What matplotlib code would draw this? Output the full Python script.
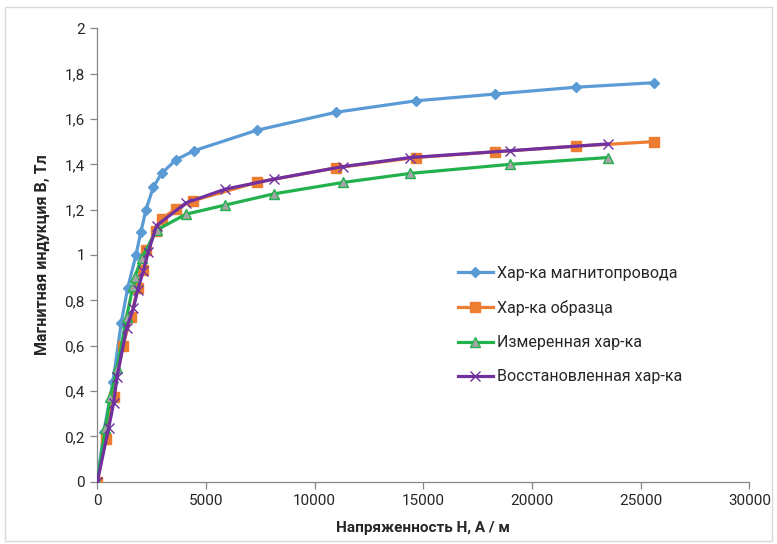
import matplotlib
matplotlib.use('Agg')
import matplotlib.pyplot as plt
import matplotlib as mpl
from matplotlib.ticker import FuncFormatter

mpl.rcParams['font.family'] = ['Roboto', 'DejaVu Sans']

# data
h_core = [0, 300, 720, 1100, 1400, 1780, 2000, 2240, 2580, 2960, 3620, 4450,
          7330, 11000, 14650, 18300, 22000, 25600]
b_core = [0, 0.22, 0.44, 0.70, 0.855, 1.00, 1.10, 1.20, 1.30, 1.36, 1.42, 1.46,
          1.55, 1.63, 1.68, 1.71, 1.74, 1.76]

h_sample = [0, 380, 750, 1170, 1550, 1860, 2100, 2250, 2680, 2960, 3640, 4420,
            7330, 11000, 14650, 18300, 22000, 25600]
b_sample = [0, 0.19, 0.375, 0.60, 0.725, 0.855, 0.935, 1.02, 1.105, 1.16, 1.205, 1.24,
            1.32, 1.385, 1.43, 1.455, 1.48, 1.50]

h_meas = [0, 370, 600, 910, 1350, 1650, 1730, 2040, 2730, 4080,
          5870, 8140, 11300, 14400, 19000, 23500]
b_meas = [0, 0.235, 0.375, 0.50, 0.728, 0.865, 0.905, 0.985, 1.11, 1.18,
          1.22, 1.27, 1.32, 1.36, 1.40, 1.43]

h_rest = [0, 520, 750, 910, 1350, 1660, 1860, 2120, 2350, 2730, 4080,
          5870, 8140, 11300, 14400, 19000, 23500]
b_rest = [0, 0.235, 0.346, 0.463, 0.677, 0.765, 0.846, 0.93, 1.015, 1.13, 1.23,
          1.29, 1.335, 1.39, 1.43, 1.46, 1.49]

labels = ['Хар-ка магнитопровода', 'Хар-ка образца',
          'Измеренная хар-ка', 'Восстановленная хар-ка']

fig = plt.figure(figsize=(7.77, 5.44), dpi=100)
ax = fig.add_axes([0.1252, 0.1145, 0.8394, 0.8335])

# chart area border
fig.patches.append(plt.Rectangle((0.006, 0.006), 0.988, 0.982, transform=fig.transFigure,
                                 fill=False, edgecolor='#d9d9d9', linewidth=1))

ax.plot(h_core, b_core, color='#5B9BD5', lw=2.3, marker='D', ms=5.5,
        mfc='#5B9BD5', mec='#5B9BD5', label=labels[0], zorder=3)
ax.plot(h_sample, b_sample, color='#ED7D31', lw=2.3, marker='s', ms=7.5,
        mfc='#ED7D31', mec='#ED7D31', label=labels[1], zorder=4)
ax.plot(h_meas, b_meas, color='#22B14C', lw=2.3, marker='^', ms=7,
        mfc='#A5A5A5', mec='#22B14C', mew=1, label=labels[2], zorder=5)
ax.plot(h_rest, b_rest, color='#7030A0', lw=2.3, marker='x', ms=6.5,
        mec='#7030A0', mew=1, label=labels[3], zorder=6)

ax.set_xlim(0, 30000)
ax.set_ylim(0, 2)
ax.set_xticks(range(0, 30001, 5000))
ax.set_yticks([i * 0.2 for i in range(11)])
ax.yaxis.set_major_formatter(FuncFormatter(
    lambda v, p: ('%g' % round(v, 1)).replace('.', ',')))

for s in ['top', 'right']:
    ax.spines[s].set_visible(False)
for s in ['left', 'bottom']:
    ax.spines[s].set_color('#868686')
    ax.spines[s].set_linewidth(0.9)
ax.tick_params(axis='both', colors='#868686', length=5, width=0.9,
               labelsize=11, labelcolor='#262626', pad=4)

ax.set_xlabel('Напряженность Н, А / м', fontsize=11, fontweight='bold',
              color='#262626', labelpad=9)
ax.set_ylabel('Магнитная индукция В, Тл', fontsize=11.5, fontweight='bold',
              color='#262626', labelpad=10)

leg = ax.legend(loc='upper left', bbox_to_anchor=(0.543, 0.49), frameon=False,
                fontsize=11.5, handlelength=2.2, handletextpad=0.25, labelspacing=1.2,
                borderaxespad=0)
for t in leg.get_texts():
    t.set_color('#262626')

fig.savefig('out.png', dpi=100)
